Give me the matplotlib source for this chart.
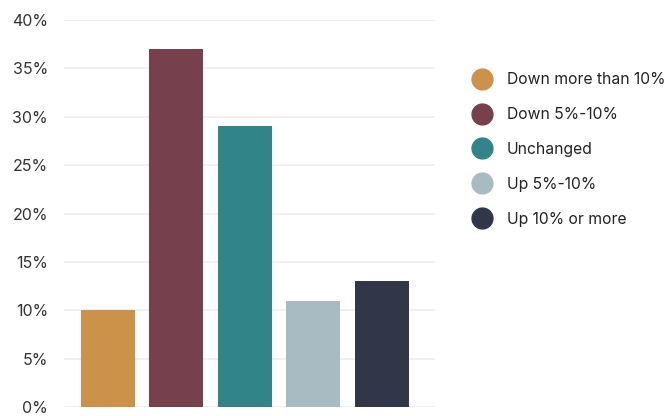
import matplotlib
matplotlib.use("Agg")
import matplotlib.pyplot as plt
from matplotlib.lines import Line2D
from matplotlib.ticker import FuncFormatter

plt.rcParams['font.family'] = ['Inter', 'DejaVu Sans']

# Data
CATEGORIES = ["Down more than 10%", "Down 5%-10%", "Unchanged", "Up 5%-10%", "Up 10% or more"]
VALUES = [10, 37, 29, 11, 13]
COLORS = ["#CC924A", "#77404D", "#318487", "#A9BBC2", "#313749"]
Y_TICKS = [0, 5, 10, 15, 20, 25, 30, 35, 40]

fig = plt.figure(figsize=(6.68, 4.16), dpi=100)
ax = fig.add_axes([64 / 668, 9 / 416, 371 / 668, 387 / 416])

x = list(range(len(CATEGORIES)))
ax.bar(x, VALUES, width=0.79, color=COLORS, zorder=3)

ax.set_ylim(0, 40)
ax.set_xlim(-0.644, 4.78)
ax.set_yticks(Y_TICKS)
ax.yaxis.set_major_formatter(FuncFormatter(lambda v, _: f"{int(v)}%"))
ax.set_xticks([])
ax.grid(axis='y', color='#eeeeee', linewidth=1.2, zorder=0)
for s in ax.spines.values():
    s.set_visible(False)
ax.tick_params(axis='y', length=0, pad=11.5, labelsize=11.5, labelcolor='#333333')

handles = [Line2D([0], [0], marker='o', linestyle='none', markersize=15,
                  markerfacecolor=c, markeredgecolor=c) for c in COLORS]
fig.legend(handles, CATEGORIES, loc='upper left', bbox_to_anchor=(458 / 668, 1 - 58 / 416),
           frameon=False, fontsize=11.3, labelspacing=1.27, handletextpad=1.0,
           handlelength=1.2, labelcolor='#222222')

fig.savefig("out.png", dpi=100)
